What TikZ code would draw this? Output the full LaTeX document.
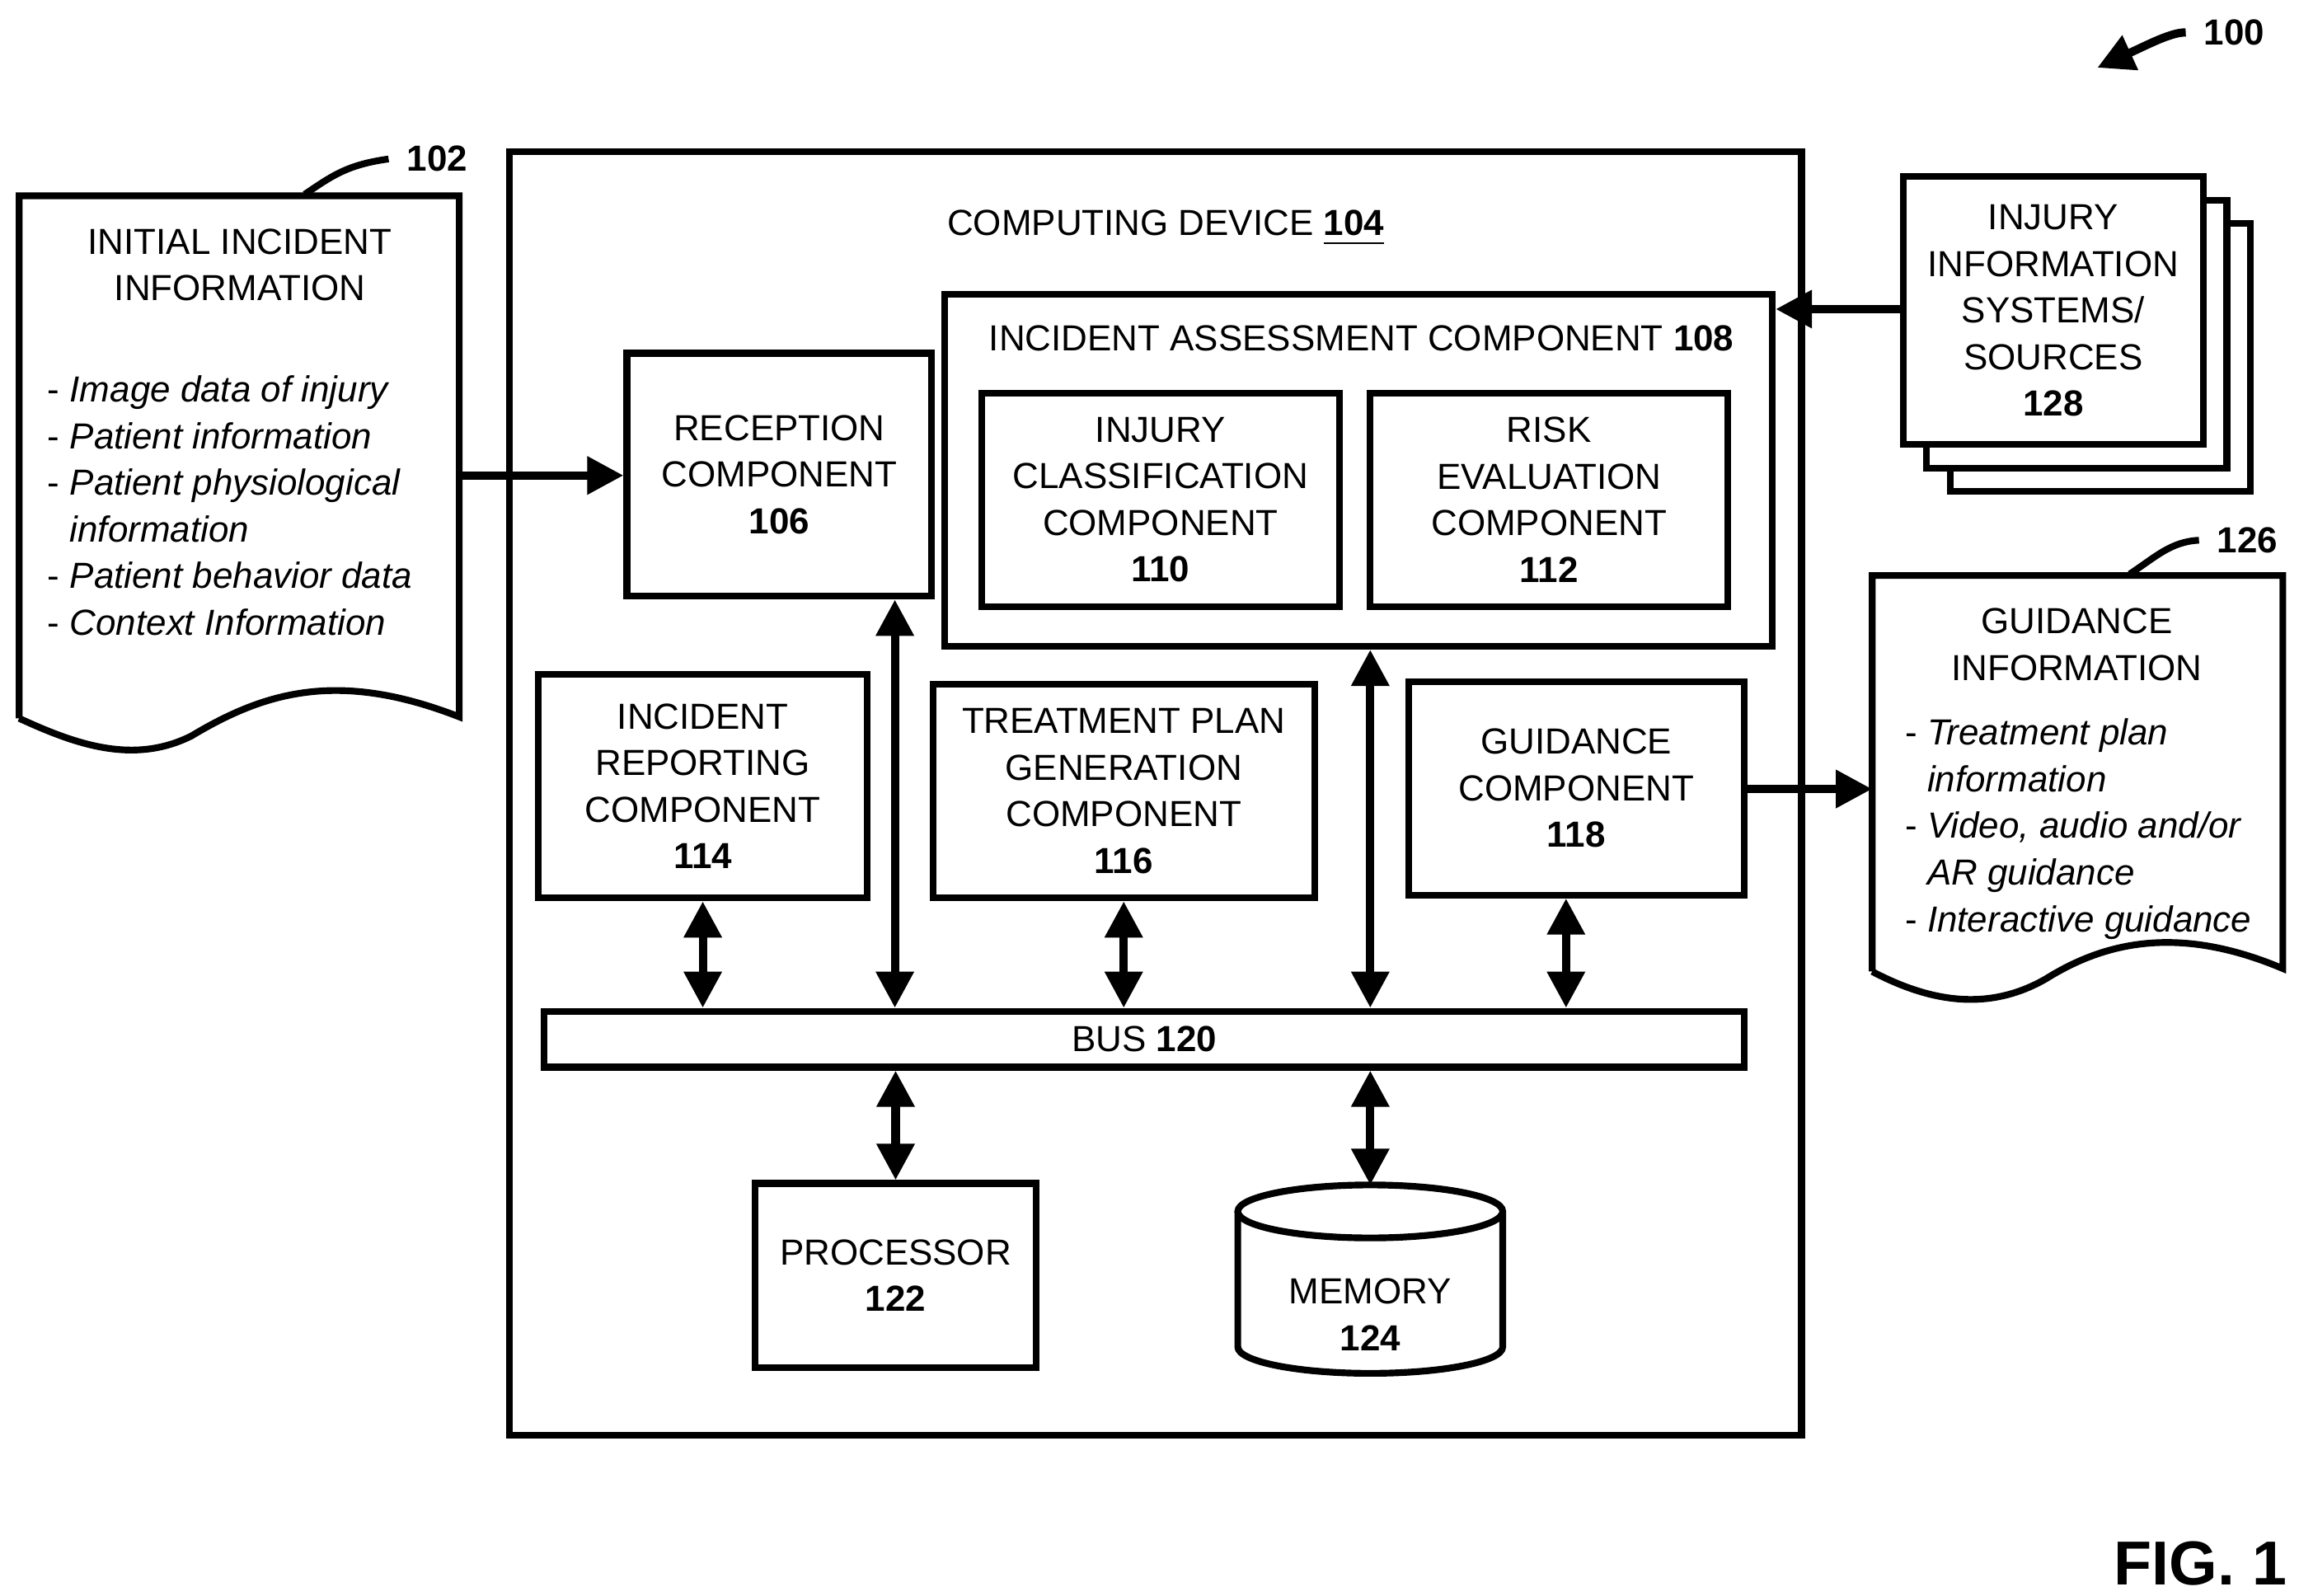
\documentclass[tikz,border=0pt]{standalone}
\usepackage{fontspec}
\setmainfont{Liberation Sans}
\usetikzlibrary{arrows.meta}
\tikzset{
  box/.style={draw,line width=1.3pt,align=center,inner sep=0pt},
  link/.style={line width=1.6pt,-{Triangle[length=7pt,width=7pt]}},
  both/.style={line width=1.6pt,{Triangle[length=7pt,width=7pt]}-{Triangle[length=7pt,width=7pt]}},
  lead/.style={line width=1.3pt},
}
\newcommand{\txt}{\fontsize{7.0}{9.0}\selectfont}
\begin{document}
\begin{tikzpicture}[x=0.01cm,y=-0.01cm,font=\txt]
\useasboundingbox (0,0) rectangle (1562,1084);
% computing device
\draw[line width=1.3pt] (346,103) rectangle (1224,975);
\node (cdev) at (792,155) {COMPUTING DEVICE \textbf{\underline{104}}};
\node[box,minimum width=5.62cm,minimum height=2.39cm] (iac) at (923,319.5) {};
\node (iactxt) at (925,230) {INCIDENT ASSESSMENT COMPONENT \textbf{108}};
\node[box,minimum width=2.43cm,minimum height=1.45cm] (icc) at (788.5,339.5) {INJURY\\CLASSIFICATION\\COMPONENT\\\textbf{110}};
\node[box,minimum width=2.43cm,minimum height=1.45cm] (rec) at (1052.5,339.5) {RISK\\EVALUATION\\COMPONENT\\\textbf{112}};
\node[box,minimum width=2.07cm,minimum height=1.65cm] (recp) at (529.5,322.5) {RECEPTION\\COMPONENT\\\textbf{106}};
\node[box,minimum width=2.23cm,minimum height=1.52cm] (irc) at (477.5,534) {INCIDENT\\REPORTING\\COMPONENT\\\textbf{114}};
\node[box,minimum width=2.59cm,minimum height=1.45cm] (tpg) at (763.5,537.5) {TREATMENT PLAN\\GENERATION\\COMPONENT\\\textbf{116}};
\node[box,minimum width=2.28cm,minimum height=1.45cm] (gdc) at (1071,535.5) {GUIDANCE\\COMPONENT\\\textbf{118}};
\node[box,minimum width=8.15cm,minimum height=0.38cm] (bus) at (777.5,706) {BUS \textbf{120}};
\node[box,minimum width=1.91cm,minimum height=1.25cm] (proc) at (608.5,866.5) {PROCESSOR\\\textbf{122}};
% memory
\draw[line width=1.3pt,fill=white] (841,823) -- (841,915) arc[start angle=180,end angle=0,x radius=90,y radius=18] -- (1021,823);
\draw[line width=1.3pt] (931,823) ellipse[x radius=90,y radius=18];
\node[align=center] (mem) at (931,893) {MEMORY\\\textbf{124}};
\coordinate (memtop) at (931,805);
% incident information document
\draw[line width=1.3pt] (13,488) -- (13,133) -- (312,133) -- (312,487)
  .. controls (230,455) and (180,470) .. (130,500)
  .. controls (90,520) and (50,505) .. (13,488);
\node[align=center] (initt) at (163,180) {INITIAL INCIDENT\\INFORMATION};
\node[align=left,anchor=north west] (init) at (20,243) {- \textit{Image data of injury}\\- \textit{Patient information}\\- \textit{Patient physiological}\\\hphantom{- }\textit{information}\\- \textit{Patient behavior data}\\- \textit{Context Information}};
\coordinate (initout) at (312,323);
% guidance document
\draw[line width=1.3pt] (1272,660) -- (1272,391) -- (1551,391) -- (1551,658)
  .. controls (1480,628) and (1430,640) .. (1390,665)
  .. controls (1350,688) and (1310,680) .. (1272,660);
\node[align=center] (guidt) at (1411,438) {GUIDANCE\\INFORMATION};
\node[align=left,anchor=north west] (guid) at (1282,476) {- \textit{Treatment plan}\\\hphantom{- }\textit{information}\\- \textit{Video, audio and/or}\\\hphantom{- }\textit{AR guidance}\\- \textit{Interactive guidance}};
\coordinate (guidin) at (1272,536);
% injury sources stack
\draw[line width=1.3pt,fill=white] (1325,152) rectangle (1529,334);
\draw[line width=1.3pt,fill=white] (1309,136) rectangle (1513,318);
\node[box,fill=white,minimum width=2.04cm,minimum height=1.82cm] (src) at (1395,211) {INJURY\\INFORMATION\\SYSTEMS/\\SOURCES\\\textbf{128}};
% connectors
\draw[link] (initout) -- (recp.west |- initout);
\draw[link] (src.west |- 0,210) -- (iac.east |- 0,210);
\draw[link] (gdc.east |- guidin) -- (guidin);
\draw[both] (recp.south -| 608,0) -- (bus.north -| 608,0);
\draw[both] (irc.south) -- (bus.north -| irc.south);
\draw[both] (tpg.south) -- (bus.north -| tpg.south);
\draw[both] (iac.south -| 931,0) -- (bus.north -| 931,0);
\draw[both] (gdc.south -| 1064,0) -- (bus.north -| 1064,0);
\draw[both] (bus.south -| proc.north) -- (proc.north);
\draw[both] (bus.south -| memtop) -- (memtop);
% reference labels
\node (l102) at (297,108) {\textbf{102}};
\draw[lead] (207,132) .. controls (225,120) and (235,112) .. (l102.west);
\node (l126) at (1527,367) {\textbf{126}};
\draw[lead] (1447,390) .. controls (1465,378) and (1475,368) .. (l126.west);
\node (l100) at (1518,22) {\textbf{100}};
\draw[link] (l100.west) .. controls (1475,22) and (1460,30) .. (1425,46);
\node (fig) at (1495,1062) {\fontsize{12}{14}\selectfont\textbf{FIG. 1}};
\end{tikzpicture}
\end{document}
